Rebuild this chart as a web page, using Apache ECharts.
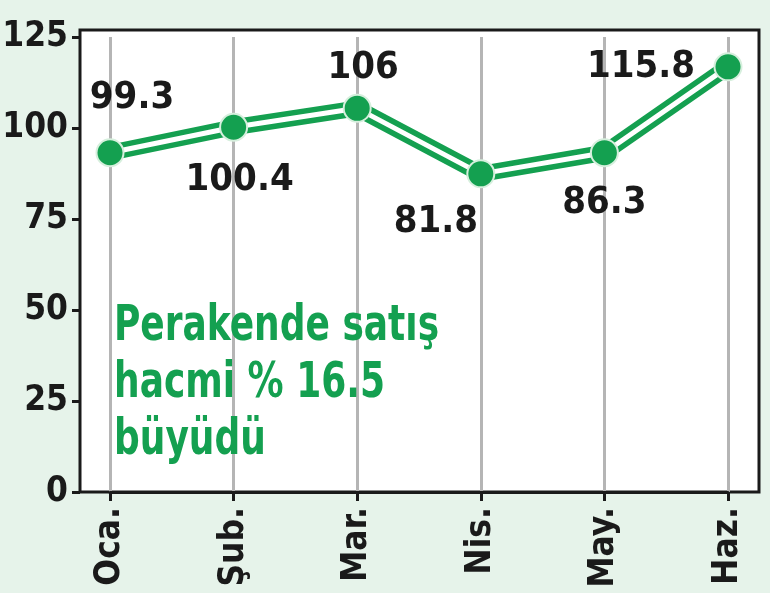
<!DOCTYPE html>
<html>
<head>
<meta charset="utf-8">
<script src="https://cdn.jsdelivr.net/npm/echarts@6/dist/echarts.min.js"></script>
<style>
html,body{margin:0;padding:0;background:#e6f3ea;}
#c{width:770px;height:593px;}
</style>
</head>
<body>
<div id="c"></div>
<script>
const categories = ['Oca.', 'Şub.', 'Mar.', 'Nis.', 'May.', 'Haz.'];
const values = [93.2, 100.2, 105.4, 87.4, 93.2, 116.8];
const labelTexts = ['99.3', '100.4', '106', '81.8', '86.3', '115.8'];
const yMin = 0, yMax = 125, yStep = 25;
const noteLines = ['Perakende satış', 'hacmi % 16.5', 'büyüdü'];

// label placement relative to each point (layout, not data)
const labelOffsets = [[22, -55], [6, 53], [6, -40], [-45, 48], [0, 50], [-87, 0]];

const FONT = "'Liberation Sans Narrow','DejaVu Sans Condensed','Roboto Condensed',sans-serif";
const GREEN = '#14a050';
const INK = '#1a1a1a';

const pointData = values.map((v, i) => ({
  value: v,
  label: { formatter: labelTexts[i], offset: labelOffsets[i] }
}));

const chart = echarts.init(document.getElementById('c'));
chart.setOption({
  animation: false,
  backgroundColor: '#e6f3ea',
  grid: [
    { left: 80, right: 11, top: 30, bottom: 101, show: true, backgroundColor: '#ffffff',
      borderColor: INK, borderWidth: 3, outerBoundsMode: 'none', containLabel: false },
    { left: 110, right: 42, top: 37, bottom: 101, outerBoundsMode: 'none', containLabel: false }
  ],
  xAxis: [
    { gridIndex: 0, type: 'category', data: categories, show: false },
    { gridIndex: 1, type: 'category', data: categories, boundaryGap: false,
      axisLine: { show: true, lineStyle: { color: INK, width: 3 } },
      axisTick: { show: true, interval: 0, length: 9, lineStyle: { color: INK, width: 3 } },
      axisLabel: { rotate: 90, margin: 15, interval: 0, fontFamily: FONT, fontWeight: 'bold', fontSize: 35, color: INK },
      splitLine: { show: true, interval: 0, lineStyle: { color: '#b5b5b5', width: 3 } } }
  ],
  yAxis: [
    { gridIndex: 0, type: 'value', show: false },
    { gridIndex: 1, type: 'value', min: yMin, max: yMax, interval: yStep, offset: 30,
      axisLine: { show: false },
      axisTick: { show: true, length: 8, lineStyle: { color: INK, width: 3 } },
      axisLabel: { margin: 12, fontFamily: FONT, fontWeight: 'bold', fontSize: 35, color: INK },
      splitLine: { show: false } }
  ],
  graphic: [
    { type: 'text', x: 114, y: 299, scaleX: 0.8, z: 10,
      style: { text: noteLines.join('\n'), fill: GREEN, font: 'bold 50px ' + FONT, lineHeight: 57 } }
  ],
  series: [
    { type: 'line', xAxisIndex: 1, yAxisIndex: 1, data: values, symbol: 'none', z: 2,
      lineStyle: { color: GREEN, width: 16 } },
    { type: 'line', xAxisIndex: 1, yAxisIndex: 1, data: values, symbol: 'none', z: 3,
      lineStyle: { color: '#ffffff', width: 5 } },
    { type: 'line', xAxisIndex: 1, yAxisIndex: 1, data: pointData, z: 4,
      symbol: 'circle', symbolSize: 27,
      lineStyle: { opacity: 0 },
      itemStyle: { color: GREEN, borderColor: '#d6efdd', borderWidth: 2 },
      label: { show: true, position: 'inside', fontFamily: FONT, fontWeight: 'bold', fontSize: 38, color: INK } }
  ]
});
</script>
</body>
</html>
